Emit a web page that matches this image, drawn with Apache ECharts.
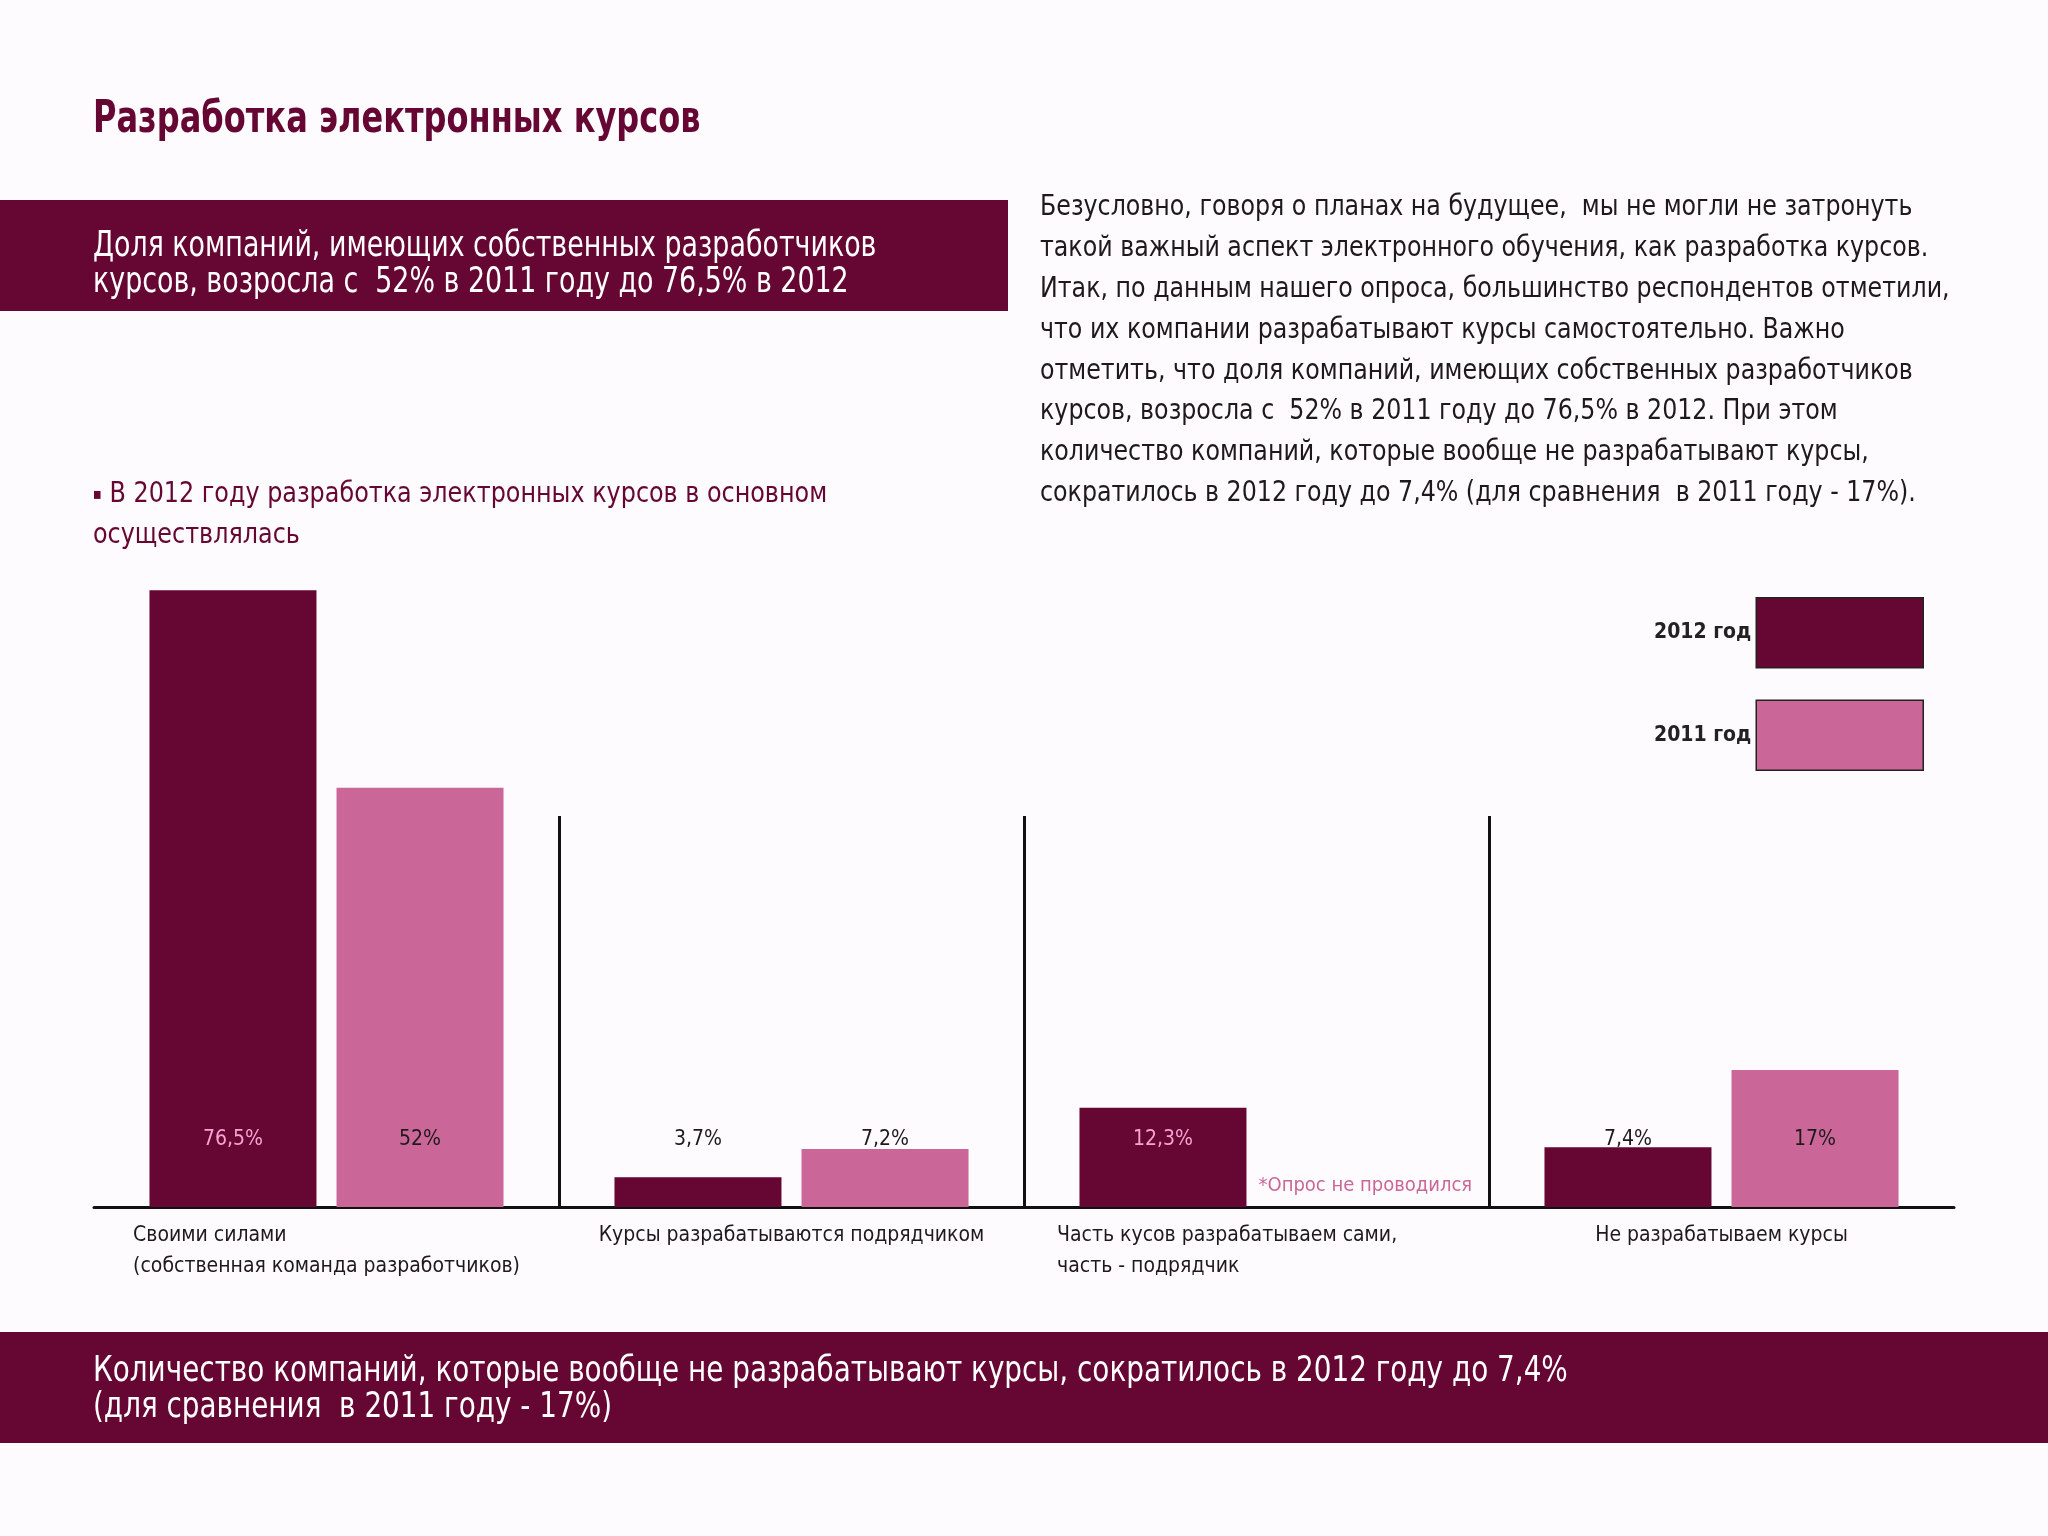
<!DOCTYPE html>
<html><head><meta charset="utf-8">
<script src="https://cdn.jsdelivr.net/npm/echarts@6/dist/echarts.min.js"></script>
<style>html,body{margin:0;padding:0;background:#fdfbfd}#c{width:2048px;height:1536px}</style>
</head><body><div id="c"></div>
<script>
// ---- data ----
const categories = [
  'Своими силами\n(собственная команда разработчиков)',
  'Курсы разрабатываются подрядчиком',
  'Часть кусов разрабатываем сами,\nчасть - подрядчик',
  'Не разрабатываем курсы'
];
const seriesNames = ['2012 год', '2011 год'];
const values2012 = [76.5, 3.7, 12.3, 7.4];
const values2011 = [52, 7.2, null, 17];
const noteText = '*Опрос не проводился';
const noteCategory = 2;
const titleText = 'Разработка электронных курсов';
const topBandLines = [
  'Доля компаний, имеющих собственных разработчиков',
  'курсов, возросла с  52% в 2011 году до 76,5% в 2012'
];
const paragraphLines = [
  'Безусловно, говоря о планах на будущее,  мы не могли не затронуть',
  'такой важный аспект электронного обучения, как разработка курсов.',
  'Итак, по данным нашего опроса, большинство респондентов отметили,',
  'что их компании разрабатывают курсы самостоятельно. Важно',
  'отметить, что доля компаний, имеющих собственных разработчиков',
  'курсов, возросла с  52% в 2011 году до 76,5% в 2012. При этом',
  'количество компаний, которые вообще не разрабатывают курсы,',
  'сократилось в 2012 году до 7,4% (для сравнения  в 2011 году - 17%).'
];
const subtitleLines = [
  '{b|▪} В 2012 году разработка электронных курсов в основном',
  'осуществлялась'
];
const bottomBandLines = [
  'Количество компаний, которые вообще не разрабатывают курсы, сократилось в 2012 году до 7,4%',
  '(для сравнения  в 2011 году - 17%)'
];

// ---- style ----
const FONT = "'Liberation Sans Narrow', 'DejaVu Sans Condensed', 'Roboto Condensed', sans-serif";
const MAROON = '#660733';
const PINK = '#cb6798';
const LIGHT_PINK = '#f6a3cd';
const DARK = '#1e1a1c';
const fmt = v => String(v).replace('.', ',') + '%';

const chart = echarts.init(document.getElementById('c'), null, {renderer: 'canvas'});

function txt(lines, x, y, size, color, weight, lh, sx, rich) {
  return {
    type: 'text', x: x, y: y, z: 10, scaleX: sx || 1,
    style: {
      text: lines.join('\n'), fill: color, fontFamily: FONT, fontSize: size,
      fontWeight: weight || 'normal', lineHeight: lh || size * 1.2,
      textAlign: 'left', textVerticalAlign: 'top', rich: rich
    }
  };
}

const CAT_FS = 21;
const richCat = {
  c0: {align: 'left', fontSize: CAT_FS, fontFamily: FONT, color: DARK, lineHeight: 31},
  c1: {fontSize: CAT_FS, fontFamily: FONT, color: DARK, lineHeight: 31},
  c2: {align: 'left', width: 399, fontSize: CAT_FS, fontFamily: FONT, color: DARK, lineHeight: 31},
  c3: {fontSize: CAT_FS, fontFamily: FONT, color: DARK, lineHeight: 31}
};

const option = {
  backgroundColor: '#fdfbfd',
  animation: false,
  grid: [
    {left: 94, right: 94, top: 562, bottom: 329, containLabel: false, outerBoundsMode: 'none'},
    {left: 94, right: 94, top: 816, bottom: 329, containLabel: false, outerBoundsMode: 'none'}
  ],
  legend: {
    data: seriesNames, orient: 'vertical', right: 119, top: 592,
    align: 'right', icon: 'rect', itemWidth: 167, itemHeight: 70, itemGap: 31,
    itemStyle: {borderColor: '#222', borderWidth: 1.5},
    textStyle: {fontFamily: FONT, fontSize: 21, fontWeight: 'bold', color: '#222'},
    selectedMode: false
  },
  xAxis: [
    {
      type: 'category', gridIndex: 0, data: categories,
      axisLine: {show: true, lineStyle: {color: '#111', width: 3}},
      axisTick: {show: false},
      splitLine: {show: false},
      axisLabel: {
        interval: 0, margin: 13,
        formatter: function (v, i) {
          return v.split('\n').map(l => '{c' + i + '|' + l + '}').join('\n');
        },
        rich: richCat
      }
    },
    {
      type: 'category', gridIndex: 1, data: categories,
      axisLine: {show: false}, axisTick: {show: false}, axisLabel: {show: false},
      splitLine: {show: true, showMinLine: false, showMaxLine: false, lineStyle: {color: '#111', width: 3}}
    }
  ],
  yAxis: [
    {type: 'value', gridIndex: 0, min: 0, max: 80, show: false},
    {type: 'value', gridIndex: 1, min: 0, max: 1, show: false}
  ],
  series: [
    {
      name: seriesNames[0], type: 'bar', xAxisIndex: 0, yAxisIndex: 0,
      barWidth: 167, barGap: '12%',
      itemStyle: {color: MAROON},
      data: values2012.map(v => ({
        value: v,
        label: {color: v > 10 ? LIGHT_PINK : DARK}
      })),
      label: {
        show: true, position: 'insideBottom', distance: 57,
        fontFamily: FONT, fontSize: 21, formatter: p => fmt(p.value)
      }
    },
    {
      name: seriesNames[1], type: 'bar', xAxisIndex: 0, yAxisIndex: 0,
      barWidth: 167, barGap: '12%',
      itemStyle: {color: PINK},
      data: values2011,
      label: {
        show: true, position: 'insideBottom', distance: 57, color: DARK,
        fontFamily: FONT, fontSize: 21,
        formatter: p => (p.value == null ? '' : fmt(p.value))
      }
    }
  ],
  graphic: [
    {type: 'rect', shape: {x: 0, y: 200, width: 1008, height: 111}, style: {fill: MAROON}, z: 5},
    {type: 'rect', shape: {x: 0, y: 1332, width: 2048, height: 111}, style: {fill: MAROON}, z: 5},
    txt([titleText], 93, 97, 44, MAROON, 'bold', 48, 0.81),
    txt(topBandLines, 93, 229, 36, '#ffffff', 'normal', 36, 0.83),
    txt(paragraphLines, 1040, 187, 29, DARK, 'normal', 40.9, 0.91),
    txt(subtitleLines, 93, 474, 29, MAROON, 'normal', 41, 0.915,
      {b: {fontSize: 16, fontFamily: FONT, fill: MAROON, verticalAlign: 'middle'}}),
    txt(bottomBandLines, 93, 1354, 36, '#ffffff', 'normal', 36, 0.86)
  ]
};
chart.setOption(option);

// note for the missing 2011 value, placed next to the category's 2011 slot
const cx = chart.convertToPixel({xAxisIndex: 0}, noteCategory);
const by = chart.convertToPixel({yAxisIndex: 0}, 0);
chart.setOption({
  graphic: option.graphic.concat([{
    type: 'text', x: cx + 2, y: by - 21, z: 10,
    style: {text: noteText, fill: PINK, fontFamily: FONT, fontSize: 20,
      textAlign: 'left', textVerticalAlign: 'middle'}
  }])
});
</script>
</body></html>
